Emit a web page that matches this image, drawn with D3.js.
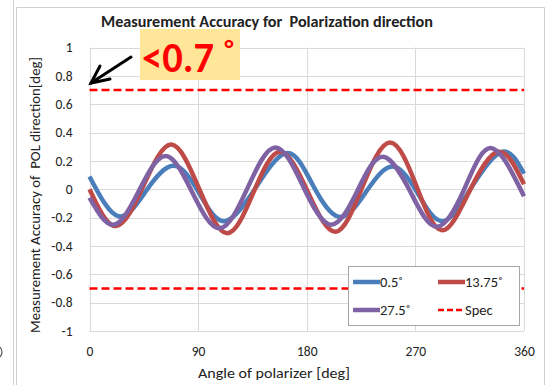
<!DOCTYPE html>
<html>
<head>
<meta charset="utf-8">
<script src="https://cdn.jsdelivr.net/npm/d3@7"></script>
<style>
  html, body { margin: 0; padding: 0; background: #ffffff; }
  svg { display: block; }
  text { font-family: Carlito, Lato, "Open Sans", sans-serif; white-space: pre; }
</style>
</head>
<body>
<svg id="chart" width="549" height="385"></svg>
<script>
// Axis ticks
const angleTicks = [0, 90, 180, 270, 360];
const accuracyTicks = [-1, -0.8, -0.6, -0.4, -0.2, 0, 0.2, 0.4, 0.6, 0.8, 1];
const accuracyTickLabels = ["-1", "-0.8", "-0.6", "-0.4", "-0.2", "0", "0.2", "0.4", "0.6", "0.8", "1"];

// Spec limit (±)
const specLimit = 0.7;

// Measured error vs. polarizer angle: [angle deg, error deg]
const series05 = [[0, 0.09], [24, -0.19], [47, -0.01], [70, 0.165], [91, -0.03], [112, -0.225],
  [138, 0.015], [164, 0.255], [185, 0.03], [207, -0.195], [229, -0.02], [251, 0.16],
  [272, -0.03], [293, -0.225], [317, 0.02], [342, 0.265], [360, 0.11]];
const series1375 = [[0, 0.0], [22, -0.26], [45, 0.03], [68, 0.315], [91, 0.0], [114, -0.31],
  [136, -0.02], [158, 0.265], [181, -0.02], [204, -0.30], [226, 0.015], [249, 0.33],
  [271, 0.02], [292, -0.29], [315, -0.01], [339, 0.265], [360, 0.035]];
const series275 = [[0, -0.06], [20, -0.25], [41, -0.01], [63, 0.235], [85, -0.02], [108, -0.275],
  [131, 0.01], [154, 0.295], [177, 0.02], [200, -0.25], [222, -0.01], [243, 0.23],
  [266, -0.02], [288, -0.265], [311, 0.01], [333, 0.29], [360, -0.05]];

const seriesNames = ["0.5˚", "13.75˚", "27.5˚"];
const seriesColors = ["#4a7ebb", "#be4b48", "#7f62a4"];
const seriesData = [series05, series1375, series275];

const svg = d3.select("#chart");

// outer frame
const frame = svg.append("g").attr("fill", "none").attr("stroke", "#d0d0d0").attr("stroke-width", 1);
frame.append("line").attr("x1", 13.5).attr("x2", 13.5).attr("y1", 0).attr("y2", 385);
frame.append("line").attr("x1", 16.5).attr("x2", 16.5).attr("y1", 7.5).attr("y2", 385);
frame.append("line").attr("x1", 16.5).attr("x2", 544.5).attr("y1", 7.5).attr("y2", 7.5);
frame.append("line").attr("x1", 544.5).attr("x2", 544.5).attr("y1", 7.5).attr("y2", 385);

// small curved stroke at the far left edge
svg.append("path").attr("d", "M0,347 Q4,352 0,357")
  .attr("fill", "none").attr("stroke", "#555").attr("stroke-width", 1.2);

const x = d3.scaleLinear().domain([0, 360]).range([89.5, 524]);
const y = d3.scaleLinear().domain([-1, 1]).range([331, 47.5]);

// gridlines
const grid = svg.append("g").attr("stroke", "#d9d9d9").attr("stroke-width", 1);
grid.selectAll("line.h").data(accuracyTicks).join("line")
  .attr("x1", x(0)).attr("x2", x(360))
  .attr("y1", d => Math.round(y(d)) + 0.5).attr("y2", d => Math.round(y(d)) + 0.5);
grid.selectAll("line.v").data(angleTicks).join("line")
  .attr("x1", d => Math.round(x(d)) + 0.5).attr("x2", d => Math.round(x(d)) + 0.5)
  .attr("y1", y(1)).attr("y2", y(-1));

// axes
const yAxis = d3.axisLeft(y).tickValues(accuracyTicks)
  .tickFormat((d, i) => accuracyTickLabels[i]).tickSize(0).tickPadding(17);
const gy = svg.append("g").attr("transform", `translate(${x(0)},0)`).call(yAxis);
gy.select(".domain").remove();
gy.selectAll("text").attr("font-size", 13.5).attr("fill", "#222");

const xAxis = d3.axisBottom(x).tickValues(angleTicks).tickSize(0).tickPadding(15);
const gx = svg.append("g").attr("transform", `translate(0,${y(-1)})`).call(xAxis);
gx.select(".domain").remove();
gx.selectAll("text").attr("font-size", 13.5).attr("fill", "#222");

// series lines
const line = d3.line().x(d => x(d[0])).y(d => y(d[1])).curve(d3.curveNatural);
svg.append("g").selectAll("path").data(seriesData).join("path")
  .attr("d", line)
  .attr("fill", "none")
  .attr("stroke", (d, i) => seriesColors[i])
  .attr("stroke-width", 4.5)
  .attr("stroke-linejoin", "round");

// spec limits
svg.append("g").selectAll("line").data([specLimit, -specLimit]).join("line")
  .attr("x1", x(0)).attr("x2", x(360))
  .attr("y1", d => y(d)).attr("y2", d => y(d))
  .attr("stroke", "#ff0000").attr("stroke-width", 2.5)
  .attr("stroke-dasharray", "8,4");

// titles
svg.append("text").attr("x", 267).attr("y", 27)
  .attr("text-anchor", "middle").attr("font-size", 15.5).attr("font-weight", "bold")
  .attr("fill", "#222")
  .attr("textLength", 332).attr("lengthAdjust", "spacingAndGlyphs")
  .text("Measurement Accuracy for  Polarization direction");

svg.append("text").attr("x", 274).attr("y", 378)
  .attr("text-anchor", "middle").attr("font-size", 14).attr("fill", "#222")
  .attr("textLength", 152).attr("lengthAdjust", "spacingAndGlyphs")
  .text("Angle of polarizer [deg]");

svg.append("text")
  .attr("transform", "translate(40,195) rotate(-90)")
  .attr("text-anchor", "middle").attr("font-size", 13.5).attr("fill", "#222")
  .attr("textLength", 276).attr("lengthAdjust", "spacingAndGlyphs")
  .text("Measurement Accuracy of  POL direction[deg]");

// legend
const legend = svg.append("g");
legend.append("rect").attr("x", 348.5).attr("y", 266.5).attr("width", 171).attr("height", 59)
  .attr("fill", "#ffffff").attr("stroke", "#a6a6a6").attr("stroke-width", 1);
const legendItems = [
  { label: seriesNames[0], color: seriesColors[0], dash: null, lx: 353, ly: 282 },
  { label: seriesNames[1], color: seriesColors[1], dash: null, lx: 438, ly: 282 },
  { label: seriesNames[2], color: seriesColors[2], dash: null, lx: 353, ly: 310 },
  { label: "Spec", color: "#ff0000", dash: "6,3", lx: 438, ly: 310 }
];
legendItems.forEach(it => {
  legend.append("line").attr("x1", it.lx).attr("x2", it.lx + 27)
    .attr("y1", it.ly).attr("y2", it.ly)
    .attr("stroke", it.color).attr("stroke-width", it.dash ? 2.5 : 4.5)
    .attr("stroke-dasharray", it.dash);
  legend.append("text").attr("x", it.lx + 27).attr("y", it.ly + 5)
    .attr("font-size", 14.5).attr("fill", "#222").text(it.label);
});

// spec callout
const callout = svg.append("g");
callout.append("rect").attr("x", 140).attr("y", 29).attr("width", 100).attr("height", 51)
  .attr("fill", "#ffe699");
callout.append("text").attr("x", 142).attr("y", 72)
  .attr("font-size", 42).attr("font-weight", "bold").attr("fill", "#ff0000")
  .attr("font-family", "'Liberation Sans', Arial, sans-serif")
  .attr("textLength", 72).attr("lengthAdjust", "spacingAndGlyphs")
  .text("<0.7");
callout.append("text").attr("x", 229).attr("y", 58)
  .attr("text-anchor", "middle")
  .attr("font-size", 26).attr("font-weight", "bold").attr("fill", "#ff0000")
  .attr("font-family", "'Liberation Sans', Arial, sans-serif")
  .text("°");

const arrow = svg.append("g").attr("stroke", "#000").attr("stroke-width", 3)
  .attr("stroke-linecap", "round").attr("fill", "none");
arrow.append("line").attr("x1", 131).attr("y1", 57).attr("x2", 91).attr("y2", 83);
arrow.append("polyline").attr("points", "100,66 91,83 110,79");
</script>
</body>
</html>
